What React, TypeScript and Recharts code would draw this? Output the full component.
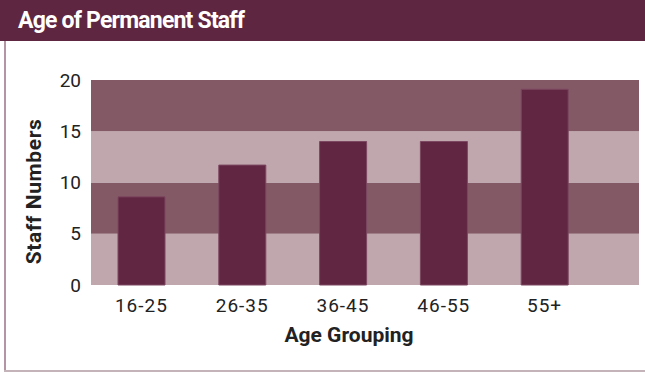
import React from "react";
import { BarChart, Bar, XAxis, YAxis, ReferenceArea } from "recharts";

const categories = ["16-25", "26-35", "36-45", "46-55", "55+"];
const staffNumbers = [8.6, 11.7, 14.0, 14.0, 19.1];
const yTicks = [0, 5, 10, 15, 20];
const bands = [
  { from: 0, to: 5, dark: false },
  { from: 5, to: 10, dark: true },
  { from: 10, to: 15, dark: false },
  { from: 15, to: 20, dark: true },
];

const data = categories.map((c, i) => ({ group: c, value: staffNumbers[i] }));

const FONT = "Roboto, 'DejaVu Sans', sans-serif";
const RIGHT_PAD = 44;

const BandShape = (props: any) => (
  <rect
    x={props.x}
    y={props.y}
    width={props.width + RIGHT_PAD}
    height={props.height}
    fill={props.fill}
    stroke="none"
  />
);

const YLabel = (props: any) => {
  const vb = props.viewBox || {};
  const cx = (vb.x || 0) + 34;
  const cy = (vb.y || 0) + (vb.height || 0) / 2 + 9;
  return (
    <text
      x={cx}
      y={cy}
      transform={`rotate(-90, ${cx}, ${cy})`}
      textAnchor="middle"
      dominantBaseline="central"
      fill="#222"
      fontSize={21}
      fontWeight={700}
      fontFamily={FONT}
      letterSpacing={0.6}
    >
      Staff Numbers
    </text>
  );
};

export default function App() {
  return (
    <div
      style={{
        position: "absolute",
        left: 0,
        top: 0,
        width: 645,
        height: 372,
        background: "#fff",
        fontFamily: FONT,
        overflow: "hidden",
      }}
    >
      <div
        style={{
          position: "absolute",
          left: 0,
          top: 0,
          width: 645,
          height: 41,
          background: "#5f2641",
          color: "#fff",
          fontWeight: 700,
          fontSize: 23,
          lineHeight: "41px",
          paddingLeft: 18,
          boxSizing: "border-box",
          letterSpacing: -0.8,
        }}
      >
        Age of Permanent Staff
      </div>
      <div
        style={{
          position: "absolute",
          left: 4,
          top: 41,
          width: 2,
          height: 331,
          background: "#b495a2",
        }}
      />
      <div
        style={{
          position: "absolute",
          left: 4,
          top: 370,
          width: 641,
          height: 2,
          background: "#c4b4ba",
        }}
      />
      <div style={{ position: "absolute", left: 0, top: 0 }}>
        <BarChart
          width={645}
          height={372}
          data={data}
          margin={{ top: 80, right: 6, bottom: 27, left: 0 }}
          barCategoryGap={0}
        >
          {bands.map((b) => (
            <ReferenceArea
              key={b.from}
              y1={b.from}
              y2={b.to}
              fill={b.dark ? "#845966" : "#c0a6ad"}
              fillOpacity={1}
              stroke="none"
              ifOverflow="visible"
              shape={BandShape}
            />
          ))}
          <XAxis
            dataKey="group"
            height={60}
            padding={{ left: 0, right: RIGHT_PAD }}
            tickLine={false}
            axisLine={false}
            tickMargin={8}
            tick={{ fill: "#222", fontSize: 19, fontFamily: FONT, letterSpacing: 1 }}
            interval={0}
            label={{
              value: "Age Grouping",
              position: "insideBottom",
              offset: 3,
              dx: -16,
              fill: "#222",
              fontSize: 21,
              fontWeight: 700,
              fontFamily: FONT,
            }}
          />
          <YAxis
            width={91}
            domain={[0, 20]}
            ticks={yTicks}
            tickLine={false}
            axisLine={false}
            tickMargin={4}
            tick={{ fill: "#222", fontSize: 19, fontFamily: FONT }}
            label={<YLabel />}
          />
          <Bar
            dataKey="value"
            fill="#612641"
            stroke="#7c4760"
            strokeWidth={1}
            barSize={47}
            isAnimationActive={false}
          />
        </BarChart>
      </div>
    </div>
  );
}
